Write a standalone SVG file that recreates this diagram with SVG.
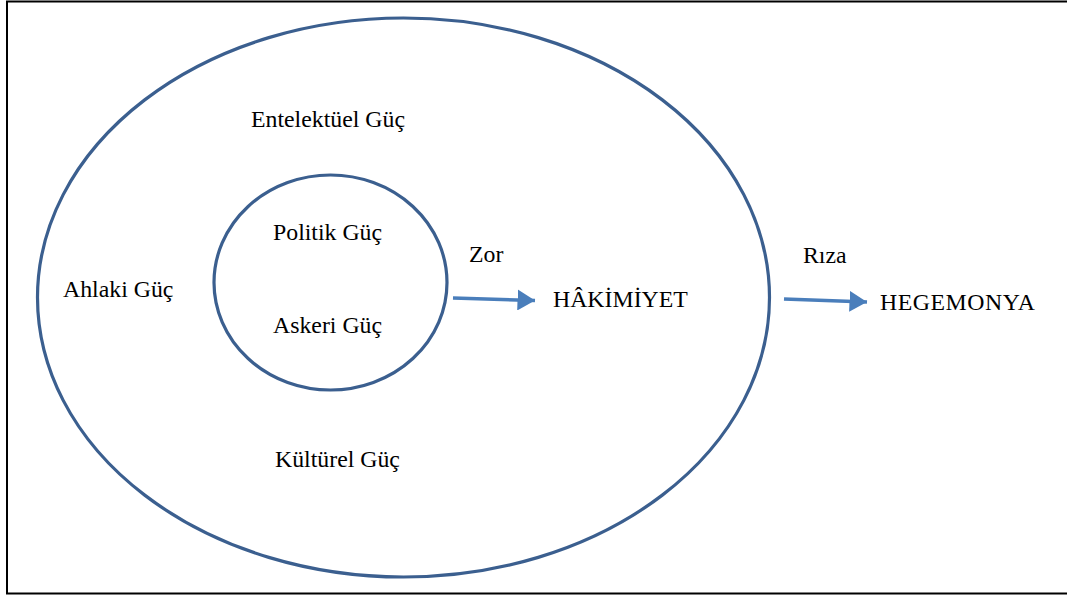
<svg xmlns="http://www.w3.org/2000/svg" width="1067" height="596" viewBox="0 0 1067 596">
<style>
.t{font-family:"Liberation Serif","Times New Roman",serif;font-size:23.8px;fill:#000}
.shape{fill:none;stroke:#3b5f8f;stroke-width:3.2}
.conn{stroke:#4a7ebb;stroke-width:3.5;fill:none}
</style>
<defs>
<marker id="ah" markerWidth="5" markerHeight="6" refX="5" refY="3" orient="auto" markerUnits="strokeWidth">
<path d="M0,0 L5,3 L0,6 Z" fill="#4a7ebb"/>
</marker>
</defs>
<rect x="7" y="1.5" width="1070" height="592" fill="#fff" stroke="#000" stroke-width="2"/>
<g id="outer">
<ellipse class="shape" cx="403.5" cy="297.5" rx="366" ry="279.5"/>
<text class="t" x="251" y="127">Entelektüel Güç</text>
<text class="t" x="63" y="297">Ahlaki Güç</text>
<text class="t" x="275" y="467">Kültürel Güç</text>
</g>
<g id="inner">
<ellipse class="shape" cx="330.5" cy="282.5" rx="116.5" ry="107.5"/>
<text class="t" x="273" y="240">Politik Güç</text>
<text class="t" x="273" y="333">Askeri Güç</text>
</g>
<g id="hakimiyet">
<text class="t" x="553" y="307">HÂKİMİYET</text>
</g>
<g id="hegemonya">
<text class="t" x="880" y="310" textLength="155">HEGEMONYA</text>
</g>
<g id="connectors">
<line class="conn" x1="453" y1="298" x2="535" y2="300.5" marker-end="url(#ah)"/>
<text class="t" x="469" y="262">Zor</text>
<line class="conn" x1="784" y1="299" x2="867" y2="302" marker-end="url(#ah)"/>
<text class="t" x="803" y="263">Rıza</text>
</g>
</svg>
